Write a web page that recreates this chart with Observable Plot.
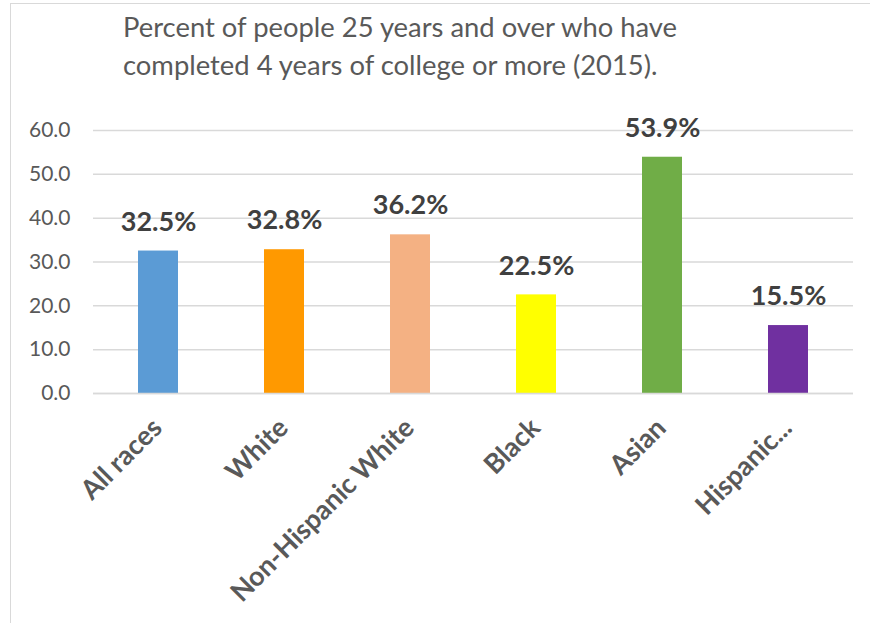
<!DOCTYPE html>
<html>
<head>
<meta charset="utf-8">
<script src="https://cdn.jsdelivr.net/npm/d3@7"></script>
<script src="https://cdn.jsdelivr.net/npm/@observablehq/plot@0.6"></script>
<style>
  html, body { margin: 0; padding: 0; background: #fff; }
  #wrap { position: relative; width: 870px; height: 623px; overflow: hidden; font-family: Lato, "Open Sans", sans-serif; }
  #frame { position: absolute; left: 10px; top: 3px; width: 900px; height: 700px; border: 1.5px solid #d9d9d9; box-sizing: border-box; }
  #title { position: absolute; left: 123px; top: 8px; font-size: 27.4px; line-height: 38px; color: #595959; white-space: nowrap; }
  #chart { position: absolute; left: 0; top: 90px; }
</style>
</head>
<body>
<div id="wrap">
  <div id="frame"></div>
  <div id="title">Percent of people 25 years and over who have<br>completed 4 years of college or more (2015).</div>
  <div id="chart"></div>
</div>
<script>
const categories = ["All races", "White", "Non-Hispanic White", "Black", "Asian", "Hispanic..."];
const values = [32.5, 32.8, 36.2, 22.5, 53.9, 15.5];
const colors = ["#5b9bd5", "#ff9900", "#f4b183", "#ffff00", "#70ad47", "#7030a0"];
const yTicks = [0, 10, 20, 30, 40, 50, 60];

const data = categories.map((c, i) => ({category: c, value: values[i], color: colors[i]}));

const chart = Plot.plot({
  width: 870,
  height: 533,
  marginLeft: 93,
  marginRight: 17,
  marginTop: 40,
  marginBottom: 230,
  style: {fontFamily: "Lato, 'Open Sans', sans-serif", background: "transparent", overflow: "visible"},
  x: {domain: categories, paddingInner: 0.684, paddingOuter: 0.342, align: 0.5},
  y: {domain: [0, 60], ticks: yTicks},
  marks: [
    Plot.gridY(yTicks, {stroke: "#d9d9d9", strokeOpacity: 1, strokeWidth: 1.5}),
    Plot.barY(data, {x: "category", y: "value", fill: "color"}),
    Plot.ruleY([0], {stroke: "#d9d9d9", strokeWidth: 1.5}),
    Plot.text(data, {x: "category", y: "value", text: d => d.value.toFixed(1) + "%", dy: -29, fontSize: 27, fontWeight: "bold", fill: "#404040"}),
    Plot.axisY(yTicks, {tickSize: 0, tickPadding: 23, tickFormat: d => d.toFixed(1), fontSize: 21, color: "#595959", label: null}),
    Plot.axisX({tickSize: 0, tickRotate: -45, tickPadding: 30, dx: -1, fontSize: 27, fontWeight: "bold", color: "#595959", label: null})
  ]
});
document.getElementById("chart").appendChild(chart);
</script>
</body>
</html>
